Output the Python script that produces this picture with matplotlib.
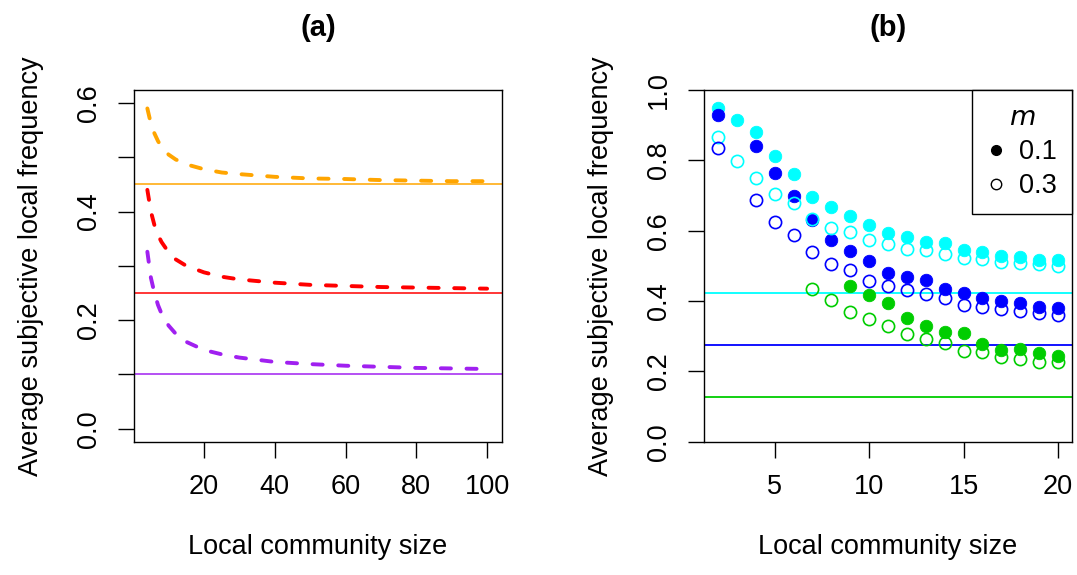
import matplotlib
matplotlib.use("Agg")
import matplotlib.pyplot as plt
from matplotlib.lines import Line2D

plt.rcParams["font.family"] = ["Liberation Sans", "DejaVu Sans"]

#
# Panel (a) data: average subjective local frequency vs community size
#
size_a = [4, 5, 6, 7, 8, 10, 12, 15, 20, 25, 30, 40, 50, 60, 70, 80, 90, 100]
orange_curve = [0.590, 0.562, 0.544, 0.530, 0.519, 0.505, 0.496, 0.487, 0.478,
                0.472, 0.469, 0.464, 0.461, 0.460, 0.458, 0.457, 0.456, 0.456]
red_curve = [0.440, 0.400, 0.375, 0.357, 0.344, 0.325, 0.312, 0.300, 0.288,
             0.280, 0.275, 0.269, 0.265, 0.263, 0.261, 0.260, 0.259, 0.258]
purple_curve = [0.326, 0.278, 0.250, 0.228, 0.212, 0.190, 0.175, 0.160, 0.145,
                0.137, 0.131, 0.123, 0.119, 0.116, 0.114, 0.112, 0.111, 0.110]
true_freq_a = [0.45, 0.25, 0.10]
colors_a = ["#FFA500", "#FF0000", "#A020F0"]

#
# Panel (b) data: simulation results for m = 0.1 (filled) and m = 0.3 (open)
#
size_cyan = list(range(2, 21))
cyan_m01 = [0.950, 0.914, 0.880, 0.812, 0.760, 0.696, 0.666, 0.642, 0.617, 0.594,
            0.581, 0.567, 0.564, 0.546, 0.538, 0.528, 0.526, 0.518, 0.517]
cyan_m03 = [0.866, 0.797, 0.749, 0.703, 0.678, 0.634, 0.608, 0.595, 0.573, 0.561,
            0.547, 0.545, 0.535, 0.521, 0.519, 0.510, 0.508, 0.505, 0.500]

size_blue = [2] + list(range(4, 21))
blue_m01 = [0.928, 0.840, 0.764, 0.700, 0.630, 0.574, 0.543, 0.514, 0.480,
            0.469, 0.460, 0.433, 0.422, 0.410, 0.401, 0.393, 0.384, 0.381]
blue_m03 = [0.836, 0.686, 0.624, 0.589, 0.538, 0.505, 0.489, 0.458, 0.442,
            0.430, 0.420, 0.410, 0.390, 0.382, 0.376, 0.372, 0.366, 0.360]

size_green_m01 = list(range(9, 21))
green_m01 = [0.443, 0.418, 0.394, 0.352, 0.330, 0.313, 0.310, 0.277, 0.261,
             0.265, 0.253, 0.244]
size_green_m03 = list(range(7, 21))
green_m03 = [0.433, 0.403, 0.369, 0.350, 0.330, 0.305, 0.292, 0.282, 0.259,
             0.256, 0.240, 0.234, 0.227, 0.226]

true_freq_b = [0.424, 0.276, 0.126]
colors_b = ["#00FFFF", "#0000FF", "#00CD00"]

fs = 19.5
fig = plt.figure(figsize=(10.77, 5.75), dpi=100)
ax_a = fig.add_axes([0.1241, 0.2318, 0.3423, 0.6117])
ax_b = fig.add_axes([0.6537, 0.2318, 0.3417, 0.6117])

# Panel (a)
for curve, hval, col in zip([orange_curve, red_curve, purple_curve], true_freq_a, colors_a):
    ax_a.axhline(hval, color=col, lw=1.1)
    ax_a.plot(size_a, curve, color=col, lw=2.8, linestyle=(0, (2.6, 4.0)),
              dash_capstyle="round")
ax_a.set_xlim(0.13, 104.3)
ax_a.set_ylim(-0.024, 0.624)
ax_a.set_xticks([20, 40, 60, 80, 100])
ax_a.set_yticks([0.0, 0.1, 0.2, 0.3, 0.4, 0.5, 0.6])
ax_a.set_yticklabels(["0.0", "", "0.2", "", "0.4", "", "0.6"])
ax_a.set_title("(a)", fontsize=21, fontweight="bold", pad=39)

# Panel (b)
for hval, col in zip(true_freq_b, colors_b):
    ax_b.axhline(hval, color=col, lw=1.3)
filled = [(size_cyan, cyan_m01, colors_b[0]), (size_blue, blue_m01, colors_b[1]),
          (size_green_m01, green_m01, colors_b[2])]
hollow = [(size_cyan, cyan_m03, colors_b[0]), (size_blue, blue_m03, colors_b[1]),
          (size_green_m03, green_m03, colors_b[2])]
for xs, ys, col in filled:
    ax_b.plot(xs, ys, "o", color=col, ms=9.0, mew=0.6, ls="none")
for xs, ys, col in hollow:
    ax_b.plot(xs, ys, "o", mfc="none", mec=col, ms=8.8, mew=1.2, ls="none")
ax_b.set_xlim(1.26, 20.74)
ax_b.set_ylim(0, 1)
ax_b.set_xticks([5, 10, 15, 20])
ax_b.set_yticks([0.0, 0.2, 0.4, 0.6, 0.8, 1.0])
ax_b.set_yticklabels(["0.0", "0.2", "0.4", "0.6", "0.8", "1.0"])
ax_b.set_title("(b)", fontsize=21, fontweight="bold", pad=39)

handles = [Line2D([], [], marker="o", ls="none", color="black", ms=7),
           Line2D([], [], marker="o", ls="none", mfc="none", mec="black", ms=7.5, mew=1)]
leg = ax_b.legend(handles, ["0.1", "0.3"], loc="upper right", borderaxespad=0,
                  fontsize=fs, title="$m$", title_fontsize=fs, fancybox=False,
                  edgecolor="black", framealpha=1, borderpad=0.55,
                  handlelength=0.7, handletextpad=0.5, labelspacing=0.3)
leg.get_frame().set_linewidth(1.0)

for ax in (ax_a, ax_b):
    for sp in ax.spines.values():
        sp.set_linewidth(1.0)
    ax.tick_params(direction="out", length=11.5, width=1.0, labelsize=fs)
    ax.tick_params(axis="x", pad=12)
    ax.tick_params(axis="y", pad=11.5)
    plt.setp(ax.get_yticklabels(), rotation=90, va="center")
    ax.set_xlabel("Local community size", fontsize=fs, labelpad=24)
    ax.set_ylabel("Average subjective local frequency", fontsize=fs, labelpad=23)

fig.savefig("out.png", dpi=100)
